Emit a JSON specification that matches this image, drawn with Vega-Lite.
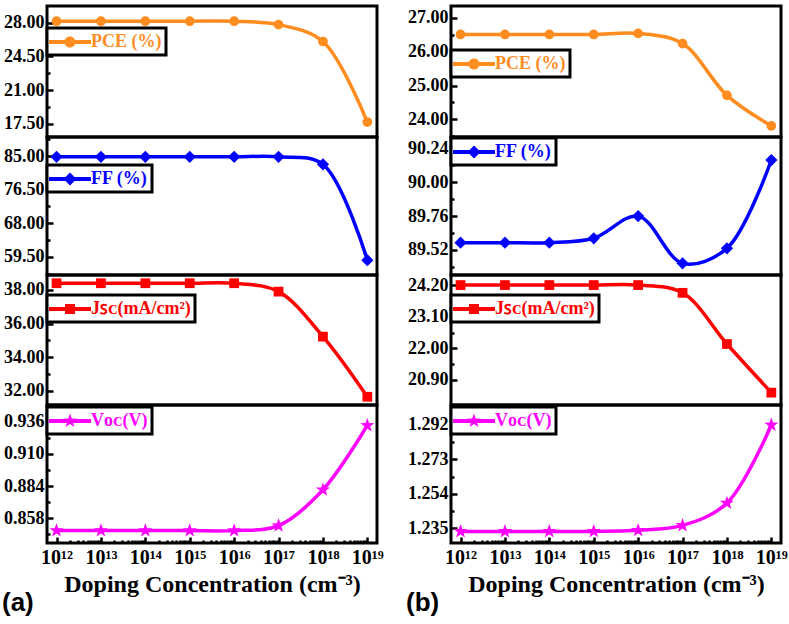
{
  "$schema": "https://vega.github.io/schema/vega-lite/v6.json",
  "padding": {"left": 2, "top": 4, "right": 5, "bottom": 2},
  "background": "white",
  "datasets": {
    "pv": [
      {"sample": "a", "param": "PCE", "series": "PCE (%)", "conc": 1e12, "value": 28.15},
      {"sample": "a", "param": "PCE", "series": "PCE (%)", "conc": 1e13, "value": 28.15},
      {"sample": "a", "param": "PCE", "series": "PCE (%)", "conc": 1e14, "value": 28.15},
      {"sample": "a", "param": "PCE", "series": "PCE (%)", "conc": 1e15, "value": 28.15},
      {"sample": "a", "param": "PCE", "series": "PCE (%)", "conc": 1e16, "value": 28.15},
      {"sample": "a", "param": "PCE", "series": "PCE (%)", "conc": 1e17, "value": 27.8},
      {"sample": "a", "param": "PCE", "series": "PCE (%)", "conc": 1e18, "value": 26.05},
      {"sample": "a", "param": "PCE", "series": "PCE (%)", "conc": 1e19, "value": 17.7},
      {"sample": "a", "param": "FF", "series": "FF (%)", "conc": 1e12, "value": 84.8},
      {"sample": "a", "param": "FF", "series": "FF (%)", "conc": 1e13, "value": 84.8},
      {"sample": "a", "param": "FF", "series": "FF (%)", "conc": 1e14, "value": 84.8},
      {"sample": "a", "param": "FF", "series": "FF (%)", "conc": 1e15, "value": 84.8},
      {"sample": "a", "param": "FF", "series": "FF (%)", "conc": 1e16, "value": 84.8},
      {"sample": "a", "param": "FF", "series": "FF (%)", "conc": 1e17, "value": 84.8},
      {"sample": "a", "param": "FF", "series": "FF (%)", "conc": 1e18, "value": 82.9},
      {"sample": "a", "param": "FF", "series": "FF (%)", "conc": 1e19, "value": 58.7},
      {"sample": "a", "param": "JSC", "series": "Jꜱᴄ(mA/cm²)", "conc": 1e12, "value": 38.4},
      {"sample": "a", "param": "JSC", "series": "Jꜱᴄ(mA/cm²)", "conc": 1e13, "value": 38.4},
      {"sample": "a", "param": "JSC", "series": "Jꜱᴄ(mA/cm²)", "conc": 1e14, "value": 38.4},
      {"sample": "a", "param": "JSC", "series": "Jꜱᴄ(mA/cm²)", "conc": 1e15, "value": 38.4},
      {"sample": "a", "param": "JSC", "series": "Jꜱᴄ(mA/cm²)", "conc": 1e16, "value": 38.4},
      {"sample": "a", "param": "JSC", "series": "Jꜱᴄ(mA/cm²)", "conc": 1e17, "value": 37.9},
      {"sample": "a", "param": "JSC", "series": "Jꜱᴄ(mA/cm²)", "conc": 1e18, "value": 35.22},
      {"sample": "a", "param": "JSC", "series": "Jꜱᴄ(mA/cm²)", "conc": 1e19, "value": 31.64},
      {"sample": "a", "param": "VOC", "series": "Vᴏᴄ(V)", "conc": 1e12, "value": 0.848},
      {"sample": "a", "param": "VOC", "series": "Vᴏᴄ(V)", "conc": 1e13, "value": 0.848},
      {"sample": "a", "param": "VOC", "series": "Vᴏᴄ(V)", "conc": 1e14, "value": 0.848},
      {"sample": "a", "param": "VOC", "series": "Vᴏᴄ(V)", "conc": 1e15, "value": 0.848},
      {"sample": "a", "param": "VOC", "series": "Vᴏᴄ(V)", "conc": 1e16, "value": 0.848},
      {"sample": "a", "param": "VOC", "series": "Vᴏᴄ(V)", "conc": 1e17, "value": 0.852},
      {"sample": "a", "param": "VOC", "series": "Vᴏᴄ(V)", "conc": 1e18, "value": 0.881},
      {"sample": "a", "param": "VOC", "series": "Vᴏᴄ(V)", "conc": 1e19, "value": 0.933},
      {"sample": "b", "param": "PCE", "series": "PCE (%)", "conc": 1e12, "value": 26.51},
      {"sample": "b", "param": "PCE", "series": "PCE (%)", "conc": 1e13, "value": 26.51},
      {"sample": "b", "param": "PCE", "series": "PCE (%)", "conc": 1e14, "value": 26.51},
      {"sample": "b", "param": "PCE", "series": "PCE (%)", "conc": 1e15, "value": 26.51},
      {"sample": "b", "param": "PCE", "series": "PCE (%)", "conc": 1e16, "value": 26.54},
      {"sample": "b", "param": "PCE", "series": "PCE (%)", "conc": 1e17, "value": 26.24},
      {"sample": "b", "param": "PCE", "series": "PCE (%)", "conc": 1e18, "value": 24.71},
      {"sample": "b", "param": "PCE", "series": "PCE (%)", "conc": 1e19, "value": 23.81},
      {"sample": "b", "param": "FF", "series": "FF (%)", "conc": 1e12, "value": 89.572},
      {"sample": "b", "param": "FF", "series": "FF (%)", "conc": 1e13, "value": 89.572},
      {"sample": "b", "param": "FF", "series": "FF (%)", "conc": 1e14, "value": 89.572},
      {"sample": "b", "param": "FF", "series": "FF (%)", "conc": 1e15, "value": 89.603},
      {"sample": "b", "param": "FF", "series": "FF (%)", "conc": 1e16, "value": 89.76},
      {"sample": "b", "param": "FF", "series": "FF (%)", "conc": 1e17, "value": 89.426},
      {"sample": "b", "param": "FF", "series": "FF (%)", "conc": 1e18, "value": 89.532},
      {"sample": "b", "param": "FF", "series": "FF (%)", "conc": 1e19, "value": 90.157},
      {"sample": "b", "param": "JSC", "series": "Jꜱᴄ(mA/cm²)", "conc": 1e12, "value": 24.2},
      {"sample": "b", "param": "JSC", "series": "Jꜱᴄ(mA/cm²)", "conc": 1e13, "value": 24.2},
      {"sample": "b", "param": "JSC", "series": "Jꜱᴄ(mA/cm²)", "conc": 1e14, "value": 24.2},
      {"sample": "b", "param": "JSC", "series": "Jꜱᴄ(mA/cm²)", "conc": 1e15, "value": 24.2},
      {"sample": "b", "param": "JSC", "series": "Jꜱᴄ(mA/cm²)", "conc": 1e16, "value": 24.2},
      {"sample": "b", "param": "JSC", "series": "Jꜱᴄ(mA/cm²)", "conc": 1e17, "value": 23.93},
      {"sample": "b", "param": "JSC", "series": "Jꜱᴄ(mA/cm²)", "conc": 1e18, "value": 22.15},
      {"sample": "b", "param": "JSC", "series": "Jꜱᴄ(mA/cm²)", "conc": 1e19, "value": 20.46},
      {"sample": "b", "param": "VOC", "series": "Vᴏᴄ(V)", "conc": 1e12, "value": 1.2333},
      {"sample": "b", "param": "VOC", "series": "Vᴏᴄ(V)", "conc": 1e13, "value": 1.2333},
      {"sample": "b", "param": "VOC", "series": "Vᴏᴄ(V)", "conc": 1e14, "value": 1.2333},
      {"sample": "b", "param": "VOC", "series": "Vᴏᴄ(V)", "conc": 1e15, "value": 1.2333},
      {"sample": "b", "param": "VOC", "series": "Vᴏᴄ(V)", "conc": 1e16, "value": 1.2339},
      {"sample": "b", "param": "VOC", "series": "Vᴏᴄ(V)", "conc": 1e17, "value": 1.2366},
      {"sample": "b", "param": "VOC", "series": "Vᴏᴄ(V)", "conc": 1e18, "value": 1.2489},
      {"sample": "b", "param": "VOC", "series": "Vᴏᴄ(V)", "conc": 1e19, "value": 1.292}
    ]
  },
  "config": {
    "view": {"stroke": "black", "strokeWidth": 3},
    "concat": {"spacing": 0},
    "axis": {
      "domain": false, "grid": false, "tickColor": "black", "tickWidth": 2.5,
      "labelFont": "Liberation Serif", "labelFontWeight": "bold", "labelFontSize": 18, "labelColor": "black",
      "titleFont": "Liberation Serif", "titleFontWeight": "bold", "titleFontSize": 24, "titleColor": "black",
      "labelOverlap": false, "labelFlush": false
    },
    "legend": {
      "orient": "none", "legendX": 0, "title": null,
      "labelFont": "Liberation Serif", "labelFontWeight": "bold", "labelFontSize": 18, "labelLimit": 300,
      "padding": 4, "strokeColor": "black", "strokeWidth": 3, "fillColor": "white", "cornerRadius": 0,
      "labelOffset": 20, "symbolOffset": 0, "symbolSize": 400, "symbolStrokeWidth": 0, "symbolOpacity": 1
    }
  },
  "hconcat": [
    {
      "title": {"text": "(a)", "orient": "bottom", "anchor": "start", "font": "Liberation Sans", "fontSize": 26, "fontWeight": "bold", "color": "black", "offset": -8},
      "spacing": 0,
      "bounds": "flush",
      "resolve": {"scale": {"color": "independent"}, "legend": {"color": "independent"}},
      "vconcat": [
        {
          "width": 330, "height": 131,
          "data": {"name": "pv"},
          "transform": [{"filter": "datum.sample === 'a' && datum.param === 'PCE'"}],
          "encoding": {
            "x": {"field": "conc", "type": "quantitative", "scale": {"type": "log", "domain": [6.1e11, 1.65e19], "nice": false}, "axis": null},
            "y": {"field": "value", "type": "quantitative", "scale": {"domain": [16.15, 29.73], "zero": false, "nice": false},
              "axis": {"title": null, "values": [17.5, 19.25, 21, 22.75, 24.5, 26.25, 28],
                "labelExpr": "indexof([17.5, 21, 24.5, 28], datum.value) >= 0 ? format(datum.value, '.2f') : ''",
                "tickSize": {"condition": {"test": "indexof([17.5, 21, 24.5, 28], datum.value) < 0", "value": -3}, "value": -6},
                "labelPadding": 9}}
          },
          "layer": [
            {"mark": {"type": "line", "interpolate": "catmull-rom", "strokeWidth": 3.5, "color": "#ff8c1f"}},
            {"mark": {"type": "point", "filled": true, "opacity": 1, "shape": "circle", "size": 95},
             "encoding": {"color": {"field": "series", "type": "nominal", "scale": {"range": ["#ff8c1f"]},
               "legend": {"legendY": 22, "labelColor": "#ff8c1f", "symbolFillColor": "#ff8c1f",
                 "symbolType": "M-1.2,-0.2H3V0.2H-1.2Z M1.45,0A0.55,0.55 0 1,1 0.35,0A0.55,0.55 0 1,1 1.45,0Z"}}}}
          ]
        },
        {
          "width": 330, "height": 138,
          "data": {"name": "pv"},
          "transform": [{"filter": "datum.sample === 'a' && datum.param === 'FF'"}],
          "encoding": {
            "x": {"field": "conc", "type": "quantitative", "scale": {"type": "log", "domain": [6.1e11, 1.65e19], "nice": false}, "axis": null},
            "y": {"field": "value", "type": "quantitative", "scale": {"domain": [54.95, 89.8], "zero": false, "nice": false},
              "axis": {"title": null, "values": [55.25, 59.5, 63.75, 68, 72.25, 76.5, 80.75, 85, 89.25],
                "labelExpr": "indexof([59.5, 68, 76.5, 85], datum.value) >= 0 ? format(datum.value, '.2f') : ''",
                "tickSize": {"condition": {"test": "indexof([59.5, 68, 76.5, 85], datum.value) < 0", "value": -3}, "value": -6},
                "labelPadding": 9}}
          },
          "layer": [
            {"mark": {"type": "line", "interpolate": "catmull-rom", "strokeWidth": 3.5, "color": "#0000ff"}},
            {"mark": {"type": "point", "filled": true, "opacity": 1, "shape": "M0,-1L1,0L0,1L-1,0Z", "size": 150},
             "encoding": {"color": {"field": "series", "type": "nominal", "scale": {"range": ["#0000ff"]},
               "legend": {"legendY": 28, "labelColor": "#0000ff", "symbolFillColor": "#0000ff",
                 "symbolType": "M-1.2,-0.2H3V0.2H-1.2Z M0.9,-0.65L1.55,0L0.9,0.65L0.25,0Z"}}}}
          ]
        },
        {
          "width": 330, "height": 130,
          "data": {"name": "pv"},
          "transform": [{"filter": "datum.sample === 'a' && datum.param === 'JSC'"}],
          "encoding": {
            "x": {"field": "conc", "type": "quantitative", "scale": {"type": "log", "domain": [6.1e11, 1.65e19], "nice": false}, "axis": null},
            "y": {"field": "value", "type": "quantitative", "scale": {"domain": [31.15, 38.89], "zero": false, "nice": false},
              "axis": {"title": null, "values": [32, 33, 34, 35, 36, 37, 38],
                "labelExpr": "indexof([32, 34, 36, 38], datum.value) >= 0 ? format(datum.value, '.2f') : ''",
                "tickSize": {"condition": {"test": "indexof([32, 34, 36, 38], datum.value) < 0", "value": -3}, "value": -6},
                "labelPadding": 9}}
          },
          "layer": [
            {"mark": {"type": "line", "interpolate": "catmull-rom", "strokeWidth": 3.5, "color": "#ff0000"}},
            {"mark": {"type": "point", "filled": true, "opacity": 1, "shape": "square", "size": 95},
             "encoding": {"color": {"field": "series", "type": "nominal", "scale": {"range": ["#ff0000"]},
               "legend": {"legendY": 20, "labelColor": "#ff0000", "symbolFillColor": "#ff0000",
                 "symbolType": "M-1.2,-0.2H3V0.2H-1.2Z M0.4,-0.5H1.4V0.5H0.4Z"}}}}
          ]
        },
        {
          "width": 330, "height": 138,
          "data": {"name": "pv"},
          "transform": [{"filter": "datum.sample === 'a' && datum.param === 'VOC'"}],
          "encoding": {
            "x": {"field": "conc", "type": "quantitative", "scale": {"type": "log", "domain": [6.1e11, 1.65e19], "nice": false},
              "axis": {"title": "Doping Concentration (cm⁻³)",
                "values": [1e12, 2e12, 3e12, 4e12, 5e12, 6e12, 7e12, 8e12, 9e12, 1e13, 2e13, 3e13, 4e13, 5e13, 6e13, 7e13, 8e13, 9e13, 1e14, 2e14, 3e14, 4e14, 5e14, 6e14, 7e14, 8e14, 9e14, 1e15, 2e15, 3e15, 4e15, 5e15, 6e15, 7e15, 8e15, 9e15, 1e16, 2e16, 3e16, 4e16, 5e16, 6e16, 7e16, 8e16, 9e16, 1e17, 2e17, 3e17, 4e17, 5e17, 6e17, 7e17, 8e17, 9e17, 1e18, 2e18, 3e18, 4e18, 5e18, 6e18, 7e18, 8e18, 9e18, 1e19],
                "labelExpr": "abs(log(datum.value)/LN10 - round(log(datum.value)/LN10)) < 0.001 ? '10¹' + substring('⁰¹²³⁴⁵⁶⁷⁸⁹', round(log(datum.value)/LN10) - 10, round(log(datum.value)/LN10) - 9) : ''",
                "tickSize": {"condition": {"test": "abs(log(datum.value)/LN10 - round(log(datum.value)/LN10)) > 0.001", "value": -3}, "value": -6},
                "labelFontSize": 20, "labelPadding": 10, "titlePadding": 2}},
            "y": {"field": "value", "type": "quantitative", "scale": {"domain": [0.838, 0.9495], "zero": false, "nice": false},
              "axis": {"title": null, "values": [0.845, 0.858, 0.871, 0.884, 0.897, 0.91, 0.923, 0.936],
                "labelExpr": "indexof([0.858, 0.884, 0.91, 0.936], datum.value) >= 0 ? format(datum.value, '.3f') : ''",
                "tickSize": {"condition": {"test": "indexof([0.858, 0.884, 0.91, 0.936], datum.value) < 0", "value": -3}, "value": -6},
                "labelPadding": 9}}
          },
          "layer": [
            {"mark": {"type": "line", "interpolate": "catmull-rom", "strokeWidth": 3.5, "color": "#ff00ff"}},
            {"mark": {"type": "point", "filled": true, "opacity": 1, "shape": "M0,-1L0.235,-0.324L0.951,-0.309L0.380,0.124L0.588,0.809L0,0.4L-0.588,0.809L-0.380,0.124L-0.951,-0.309L-0.235,-0.324Z", "size": 220},
             "encoding": {"color": {"field": "series", "type": "nominal", "scale": {"range": ["#ff00ff"]},
               "legend": {"legendY": 2, "labelColor": "#ff00ff", "symbolFillColor": "#ff00ff",
                 "symbolType": "M-1.2,-0.2H3V0.2H-1.2Z M0.9,-0.75L1.076,-0.243L1.613,-0.232L1.185,0.093L1.341,0.607L0.9,0.3L0.459,0.607L0.615,0.093L0.187,-0.232L0.724,-0.243Z"}}}}
          ]
        }
      ]
    },
    {
      "title": {"text": "(b)", "orient": "bottom", "anchor": "start", "font": "Liberation Sans", "fontSize": 26, "fontWeight": "bold", "color": "black", "offset": -8},
      "spacing": 0,
      "bounds": "flush",
      "resolve": {"scale": {"color": "independent"}, "legend": {"color": "independent"}},
      "vconcat": [
        {
          "width": 330, "height": 131,
          "data": {"name": "pv"},
          "transform": [{"filter": "datum.sample === 'b' && datum.param === 'PCE'"}],
          "encoding": {
            "x": {"field": "conc", "type": "quantitative", "scale": {"type": "log", "domain": [6.1e11, 1.65e19], "nice": false}, "axis": null},
            "y": {"field": "value", "type": "quantitative", "scale": {"domain": [23.48, 27.35], "zero": false, "nice": false},
              "axis": {"title": null, "values": [23.5, 24, 24.5, 25, 25.5, 26, 26.5, 27],
                "labelExpr": "indexof([24, 25, 26, 27], datum.value) >= 0 ? format(datum.value, '.2f') : ''",
                "tickSize": {"condition": {"test": "indexof([24, 25, 26, 27], datum.value) < 0", "value": -3}, "value": -6},
                "labelPadding": 9}}
          },
          "layer": [
            {"mark": {"type": "line", "interpolate": "catmull-rom", "strokeWidth": 3.5, "color": "#ff8c1f"}},
            {"mark": {"type": "point", "filled": true, "opacity": 1, "shape": "circle", "size": 95},
             "encoding": {"color": {"field": "series", "type": "nominal", "scale": {"range": ["#ff8c1f"]},
               "legend": {"legendY": 44, "labelColor": "#ff8c1f", "symbolFillColor": "#ff8c1f",
                 "symbolType": "M-1.2,-0.2H3V0.2H-1.2Z M1.45,0A0.55,0.55 0 1,1 0.35,0A0.55,0.55 0 1,1 1.45,0Z"}}}}
          ]
        },
        {
          "width": 330, "height": 138,
          "data": {"name": "pv"},
          "transform": [{"filter": "datum.sample === 'b' && datum.param === 'FF'"}],
          "encoding": {
            "x": {"field": "conc", "type": "quantitative", "scale": {"type": "log", "domain": [6.1e11, 1.65e19], "nice": false}, "axis": null},
            "y": {"field": "value", "type": "quantitative", "scale": {"domain": [89.343, 90.32], "zero": false, "nice": false},
              "axis": {"title": null, "values": [89.4, 89.52, 89.64, 89.76, 89.88, 90, 90.12, 90.24],
                "labelExpr": "indexof([89.52, 89.76, 90, 90.24], datum.value) >= 0 ? format(datum.value, '.2f') : ''",
                "tickSize": {"condition": {"test": "indexof([89.52, 89.76, 90, 90.24], datum.value) < 0", "value": -3}, "value": -6},
                "labelPadding": 9}}
          },
          "layer": [
            {"mark": {"type": "line", "interpolate": "catmull-rom", "strokeWidth": 3.5, "color": "#0000ff"}},
            {"mark": {"type": "point", "filled": true, "opacity": 1, "shape": "M0,-1L1,0L0,1L-1,0Z", "size": 150},
             "encoding": {"color": {"field": "series", "type": "nominal", "scale": {"range": ["#0000ff"]},
               "legend": {"legendY": 1, "labelColor": "#0000ff", "symbolFillColor": "#0000ff",
                 "symbolType": "M-1.2,-0.2H3V0.2H-1.2Z M0.9,-0.65L1.55,0L0.9,0.65L0.25,0Z"}}}}
          ]
        },
        {
          "width": 330, "height": 130,
          "data": {"name": "pv"},
          "transform": [{"filter": "datum.sample === 'b' && datum.param === 'JSC'"}],
          "encoding": {
            "x": {"field": "conc", "type": "quantitative", "scale": {"type": "log", "domain": [6.1e11, 1.65e19], "nice": false}, "axis": null},
            "y": {"field": "value", "type": "quantitative", "scale": {"domain": [20.03, 24.55], "zero": false, "nice": false},
              "axis": {"title": null, "values": [20.9, 21.45, 22, 22.55, 23.1, 23.65, 24.2],
                "labelExpr": "indexof([20.9, 22, 23.1, 24.2], datum.value) >= 0 ? format(datum.value, '.2f') : ''",
                "tickSize": {"condition": {"test": "indexof([20.9, 22, 23.1, 24.2], datum.value) < 0", "value": -3}, "value": -6},
                "labelPadding": 9}}
          },
          "layer": [
            {"mark": {"type": "line", "interpolate": "catmull-rom", "strokeWidth": 3.5, "color": "#ff0000"}},
            {"mark": {"type": "point", "filled": true, "opacity": 1, "shape": "square", "size": 95},
             "encoding": {"color": {"field": "series", "type": "nominal", "scale": {"range": ["#ff0000"]},
               "legend": {"legendY": 20, "labelColor": "#ff0000", "symbolFillColor": "#ff0000",
                 "symbolType": "M-1.2,-0.2H3V0.2H-1.2Z M0.4,-0.5H1.4V0.5H0.4Z"}}}}
          ]
        },
        {
          "width": 330, "height": 138,
          "data": {"name": "pv"},
          "transform": [{"filter": "datum.sample === 'b' && datum.param === 'VOC'"}],
          "encoding": {
            "x": {"field": "conc", "type": "quantitative", "scale": {"type": "log", "domain": [6.1e11, 1.65e19], "nice": false},
              "axis": {"title": "Doping Concentration (cm⁻³)",
                "values": [1e12, 2e12, 3e12, 4e12, 5e12, 6e12, 7e12, 8e12, 9e12, 1e13, 2e13, 3e13, 4e13, 5e13, 6e13, 7e13, 8e13, 9e13, 1e14, 2e14, 3e14, 4e14, 5e14, 6e14, 7e14, 8e14, 9e14, 1e15, 2e15, 3e15, 4e15, 5e15, 6e15, 7e15, 8e15, 9e15, 1e16, 2e16, 3e16, 4e16, 5e16, 6e16, 7e16, 8e16, 9e16, 1e17, 2e17, 3e17, 4e17, 5e17, 6e17, 7e17, 8e17, 9e17, 1e18, 2e18, 3e18, 4e18, 5e18, 6e18, 7e18, 8e18, 9e18, 1e19],
                "labelExpr": "abs(log(datum.value)/LN10 - round(log(datum.value)/LN10)) < 0.001 ? '10¹' + substring('⁰¹²³⁴⁵⁶⁷⁸⁹', round(log(datum.value)/LN10) - 10, round(log(datum.value)/LN10) - 9) : ''",
                "tickSize": {"condition": {"test": "abs(log(datum.value)/LN10 - round(log(datum.value)/LN10)) > 0.001", "value": -3}, "value": -6},
                "labelFontSize": 20, "labelPadding": 10, "titlePadding": 2}},
            "y": {"field": "value", "type": "quantitative", "scale": {"domain": [1.2269, 1.303], "zero": false, "nice": false},
              "axis": {"title": null, "values": [1.235, 1.2445, 1.254, 1.2635, 1.273, 1.2825, 1.292, 1.3015],
                "labelExpr": "indexof([1.235, 1.254, 1.273, 1.292], datum.value) >= 0 ? format(datum.value, '.3f') : ''",
                "tickSize": {"condition": {"test": "indexof([1.235, 1.254, 1.273, 1.292], datum.value) < 0", "value": -3}, "value": -6},
                "labelPadding": 9}}
          },
          "layer": [
            {"mark": {"type": "line", "interpolate": "catmull-rom", "strokeWidth": 3.5, "color": "#ff00ff"}},
            {"mark": {"type": "point", "filled": true, "opacity": 1, "shape": "M0,-1L0.235,-0.324L0.951,-0.309L0.380,0.124L0.588,0.809L0,0.4L-0.588,0.809L-0.380,0.124L-0.951,-0.309L-0.235,-0.324Z", "size": 220},
             "encoding": {"color": {"field": "series", "type": "nominal", "scale": {"range": ["#ff00ff"]},
               "legend": {"legendY": 2, "labelColor": "#ff00ff", "symbolFillColor": "#ff00ff",
                 "symbolType": "M-1.2,-0.2H3V0.2H-1.2Z M0.9,-0.75L1.076,-0.243L1.613,-0.232L1.185,0.093L1.341,0.607L0.9,0.3L0.459,0.607L0.615,0.093L0.187,-0.232L0.724,-0.243Z"}}}}
          ]
        }
      ]
    }
  ],
  "spacing": 21,
  "resolve": {"scale": {"color": "independent"}, "legend": {"color": "independent"}}
}
